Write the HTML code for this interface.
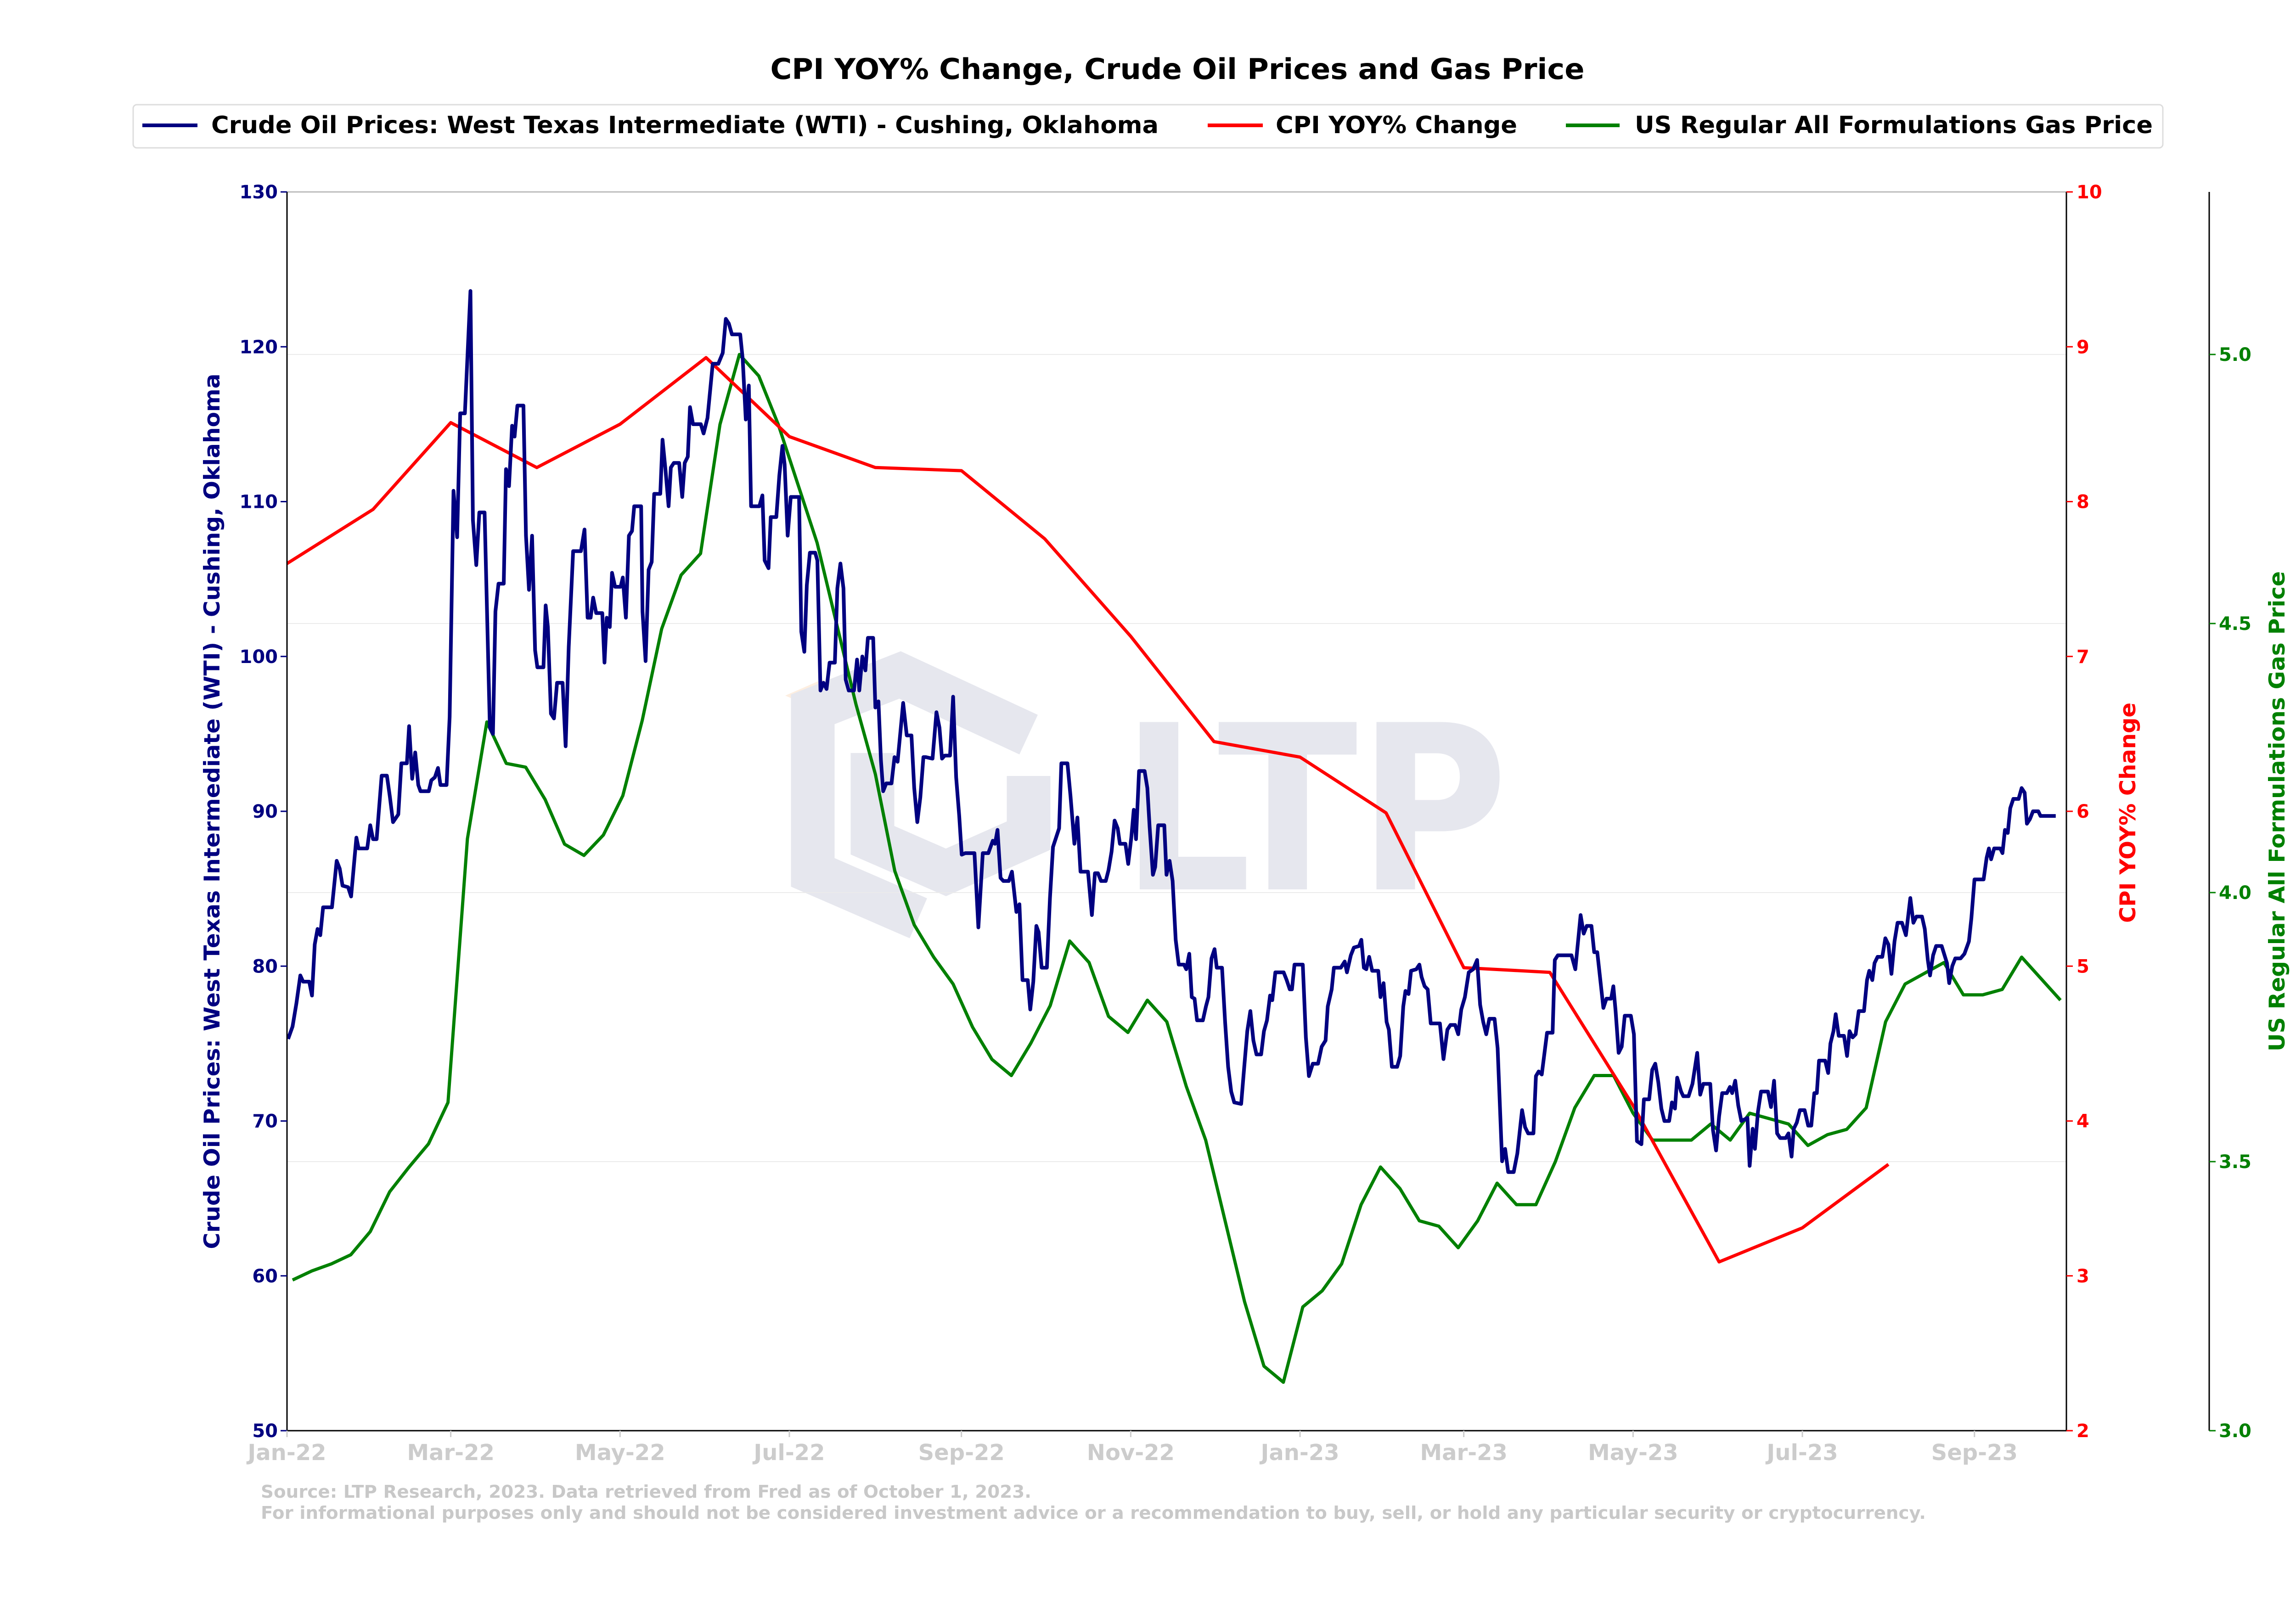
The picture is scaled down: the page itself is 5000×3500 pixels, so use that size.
<!DOCTYPE html>
<html><head><meta charset="utf-8"><title>CPI YOY% Change, Crude Oil Prices and Gas Price</title>
<style>html,body{margin:0;padding:0;background:#fff;}svg{display:block;font-family:"DejaVu Sans","Liberation Sans",sans-serif;font-weight:bold;}</style>
</head><body>
<svg id="chart" width="5000" height="3500" viewBox="0 0 5000 3500" xmlns="http://www.w3.org/2000/svg">
<rect width="5000" height="3500" fill="#fff"/>
<text x="2564" y="172" text-anchor="middle" font-size="62" fill="#000" textLength="1773" lengthAdjust="spacingAndGlyphs">CPI YOY% Change, Crude Oil Prices and Gas Price</text>
<g>
<rect x="290" y="228" width="4420" height="94" fill="#fff" stroke="#dddddd" stroke-width="3" rx="8"/>
<g><line x1="310" y1="273" x2="430" y2="273" stroke="#000080" stroke-width="8"/><text x="460" y="290" font-size="52" fill="#000" textLength="2063" lengthAdjust="spacingAndGlyphs">Crude Oil Prices: West Texas Intermediate (WTI) - Cushing, Oklahoma</text></g>
<g><line x1="2630" y1="273" x2="2750" y2="273" stroke="#ff0000" stroke-width="8"/><text x="2778" y="290" font-size="52" fill="#000" textLength="526" lengthAdjust="spacingAndGlyphs">CPI YOY% Change</text></g>
<g><line x1="3410" y1="273" x2="3527" y2="273" stroke="#008000" stroke-width="8"/><text x="3560" y="290" font-size="52" fill="#000" textLength="1128" lengthAdjust="spacingAndGlyphs">US Regular All Formulations Gas Price</text></g>
</g>
<g id="watermark">
<polygon points="1790,1480 1870,1515 1790,1550 1710,1515" fill="#fdeee0"/>
<polyline points="2240,1600 1960,1470 1770,1545 1770,1900 2000,2000" fill="none" stroke="#e6e7ee" stroke-width="95"/>
<polyline points="1900,1640 1900,1830 2060,1900 2240,1820 2240,1690" fill="none" stroke="#e6e7ee" stroke-width="95"/>
<text x="2441" y="1937" font-size="500" fill="#e6e7ee" textLength="843" lengthAdjust="spacingAndGlyphs">LTP</text>
</g>
<g id="grid"></g>
<g id="series"></g>
<g id="axes"></g>
<text transform="translate(478,1767) rotate(-90)" text-anchor="middle" font-size="47" fill="#000080" textLength="1907" lengthAdjust="spacingAndGlyphs">Crude Oil Prices: West Texas Intermediate (WTI) - Cushing, Oklahoma</text>
<text transform="translate(4650,1770) rotate(-90)" text-anchor="middle" font-size="47" fill="#ff0000" textLength="480" lengthAdjust="spacingAndGlyphs">CPI YOY% Change</text>
<text transform="translate(4975,1767) rotate(-90)" text-anchor="middle" font-size="47" fill="#008000" textLength="1046" lengthAdjust="spacingAndGlyphs">US Regular All Formulations Gas Price</text>
<text x="568" y="3262" font-size="38" fill="#c8c8c8" textLength="1678" lengthAdjust="spacingAndGlyphs">Source: LTP Research, 2023. Data retrieved from Fred as of October 1, 2023.</text>
<text x="568" y="3308" font-size="38" fill="#c8c8c8" textLength="3626" lengthAdjust="spacingAndGlyphs">For informational purposes only and should not be considered investment advice or a recommendation to buy, sell, or hold any particular security or cryptocurrency.</text>
</svg>
<script>
const xTickLabels = ["Jan-22","Mar-22","May-22","Jul-22","Sep-22","Nov-22","Jan-23","Mar-23","May-23","Jul-23","Sep-23"];
const xTickDates = ["2022-01-01","2022-03-01","2022-05-01","2022-07-01","2022-09-01","2022-11-01","2023-01-01","2023-03-01","2023-05-01","2023-07-01","2023-09-01"];
const wtiTicks = [50,60,70,80,90,100,110,120,130];
const cpiTicks = [2,3,4,5,6,7,8,9,10];
const gasTicks = [3.0,3.5,4.0,4.5,5.0];
const gasTickLabels = ["3.0","3.5","4.0","4.5","5.0"];
const cpiDates = ["2022-01-01","2022-02-01","2022-03-01","2022-04-01","2022-05-01","2022-06-01","2022-07-01","2022-08-01","2022-09-01","2022-10-01","2022-11-01","2022-12-01","2023-01-01","2023-02-01","2023-03-01","2023-04-01","2023-05-01","2023-06-01","2023-07-01","2023-08-01"];
const cpiValues = [7.6,7.95,8.51,8.22,8.5,8.93,8.42,8.22,8.2,7.76,7.13,6.45,6.35,5.99,4.99,4.96,4.1,3.09,3.31,3.72];
const gasStartDate = "2022-01-03";
const gasValues = [3.28,3.297,3.31,3.327,3.37,3.444,3.49,3.533,3.61,4.10,4.317,4.24,4.233,4.173,4.09,4.069,4.107,4.18,4.32,4.49,4.59,4.63,4.87,5.00,4.96,4.87,4.76,4.65,4.50,4.35,4.22,4.04,3.94,3.88,3.83,3.75,3.69,3.66,3.72,3.79,3.91,3.87,3.77,3.74,3.80,3.76,3.64,3.54,3.39,3.24,3.12,3.09,3.23,3.26,3.31,3.42,3.49,3.45,3.39,3.38,3.34,3.39,3.46,3.42,3.42,3.50,3.60,3.66,3.66,3.59,3.54,3.54,3.54,3.57,3.54,3.59,3.58,3.57,3.53,3.55,3.56,3.60,3.76,3.83,3.85,3.87,3.81,3.81,3.82,3.88,3.84,3.80];
const wtiDays = [0.4,2,3.4,4.8,5.8,8,9,10,11,12,13,16.2,17.9,19,20,22,23.1,25,25.8,28.9,30,31,32.3,34.1,36,37.1,38.2,40.1,41.2,43.2,44,45.1,46.2,47.3,48.1,51.1,52,53.3,54.4,55.3,57.5,58.6,60,61.3,62.4,64.1,66.1,67,68.2,69.3,71.2,73.1,74.2,75.1,76.2,78.1,78.9,80,81.1,82,83,85.2,86.1,87.2,88.3,89.4,90.2,92.4,93.2,94,95.1,96.2,97.3,99.3,100.4,101.5,103.1,105.9,107.2,108.3,109.4,110.3,111.4,113.6,114.4,115.2,116.3,117.1,118.2,120.2,121,122.1,123.2,124.3,125.1,127.6,128.1,129.2,130.3,131.4,132.3,134.5,135.3,136.4,137.5,138.3,139.4,141.3,142.4,143.3,144.4,145.2,146.3,149.1,150.1,151.5,153.4,155.4,157,158.1,159.2,160.3,162.2,163.3,164.2,165.3,166.4,167.2,170.2,171.3,172.1,173.5,174.3,176.3,177.4,178.5,179.3,180.4,181.5,184.5,185.3,186.4,187.3,188.4,190.3,191.1,192.2,193.3,194.4,195.5,197.4,198.3,199.4,200.5,201.3,202.4,204.3,205.4,206.2,207.3,208.4,209.3,211.2,
212,213.1,214,214.8,215.9,217.8,218.9,220,222,223.3,225,226,227.1,228.2,229.3,230.2,232.6,234,235.1,236,237,238.9,240,241.1,242.2,243.1,244.4,247.7,249.1,250.7,252.7,254.3,255.1,256,257.1,258.1,260.1,261.2,262.8,263.9,265,266.9,267.8,268.9,270,270.8,271.9,273.8,274.9,276,277.1,278.2,279,281.2,282.3,283.7,284.8,285.9,288.6,290,291.1,292.2,293.3,295,296,297.1,298.2,299.3,300.1,302.1,303.1,304.2,305.1,305.9,307,309,310,310.8,312,312.8,313.9,316.1,316.9,318,319.1,320.2,321.3,323.2,324,325.1,326,327,327.9,330,331.1,332,333.1,334.2,335,336.9,338,339.1,340.2,341.3,343.8,344.9,346,347.1,348.2,349.3,351,352,353.1,354.2,355,356.1,359.1,360.2,361.3,362.1,363,366,367.1,368.2,369.6,371.5,372.8,374.2,375,376.4,377.2,379.7,381.1,381.9,383.3,384.4,386.3,387.1,388,388.9,389.9,391,393.2,394,395.1,396.2,397,398.1,400,401.1,402.2,403,404.1,405,406.9,408,408.8,409.9,411,412.1,415.4,416.7,418.1,419.2,420.9,422,423.1,424.4,425.8,
427.4,428.8,429.9,431,432.1,433.2,435.1,436.2,437.8,438.9,440,442,443.3,445,446.1,447.2,449.1,450,451,452.1,454,456,456.8,457.9,462.8,464.2,466.1,467.2,468.3,470,471,472.1,474.3,475.4,477.1,477.9,478.7,479.8,480.9,482,484.2,485.3,486.4,488,488.9,490.8,491.9,493,494.1,495.2,496.3,498,499,500.1,500.9,502.3,503.1,505,506.4,508.1,509.2,510.3,512.8,513.8,514.9,516,517.1,518.8,519.9,520.7,521.8,522.9,524,526.2,527,528.1,528.9,530,531.1,533.6,534.7,535.8,536.9,538,540,541,542.1,542.9,544,545.1,546.8,548.1,549.2,550.3,551.2,552,554.2,555.3,556.1,557.2,558,559.1,561,562.1,563,564.1,565.2,566.3,568.2,569.3,570.1,571.2,572,573.1,574.8,575.9,577,578.1,579.2,580.3,581.9,583.3,584.9,586,587.1,589.1,590.1,591.2,592,593.1,594.2,596.2,598.1,598.9,600,601.1,603,604.4,606,606.9,608,611.3,612.4,613.2,614,615.1,617.3,618.1,619,620,620.9,622,623.9,625,626.1,626.9,628,629.1,631,631.8,637.3];
const wtiValues = [75.3,76.1,77.6,79.4,79.0,79.0,78.1,81.4,82.4,82.0,83.8,83.8,86.8,86.3,85.2,85.1,84.5,88.3,87.6,87.6,89.1,88.2,88.2,92.3,92.3,90.9,89.3,89.8,93.1,93.1,95.5,92.1,93.8,91.7,91.3,91.3,92.0,92.2,92.8,91.7,91.7,96.1,110.7,107.7,115.7,115.7,123.6,108.8,105.9,109.3,109.3,95.4,95.0,102.9,104.7,104.7,112.1,111.0,114.9,114.2,116.2,116.2,107.8,104.3,107.8,100.4,99.3,99.3,103.3,101.9,96.3,96.0,98.3,98.3,94.2,100.6,106.8,106.8,108.2,102.5,102.5,103.8,102.8,102.8,99.6,102.5,101.9,105.4,104.5,104.5,105.1,102.5,107.8,108.1,109.7,109.7,102.9,99.7,105.6,106.1,110.5,110.5,114.0,112.0,109.7,112.2,112.5,112.5,110.3,112.5,112.9,116.1,115.0,115.0,114.4,115.4,118.9,118.9,119.6,121.8,121.5,120.8,120.8,120.8,119.2,115.3,117.5,109.7,109.7,110.4,106.2,105.7,109.0,109.0,111.7,113.6,112.4,107.8,110.3,110.3,101.6,100.3,104.6,106.7,106.7,106.2,97.8,98.3,97.9,99.6,99.6,104.4,106.0,104.4,98.5,97.8,97.8,99.8,97.8,100.0,99.1,101.2,101.2,
96.7,97.1,93.3,91.3,91.8,91.8,93.5,93.2,97.0,94.9,94.9,91.5,89.3,90.9,93.5,93.5,93.4,96.4,95.4,93.4,93.6,93.6,97.4,92.2,89.7,87.2,87.3,87.3,82.5,87.3,87.3,88.1,87.9,88.8,85.7,85.5,85.5,86.1,83.5,84.0,79.1,79.1,77.2,79.0,82.6,82.2,79.9,79.9,84.4,87.7,88.3,88.9,93.1,93.1,91.0,87.9,89.6,86.1,86.1,83.3,86.0,86.0,85.5,85.5,86.2,87.4,89.4,88.9,87.9,87.9,86.6,88.3,90.1,88.2,92.6,92.6,91.5,89.0,85.9,86.4,89.1,89.1,85.9,86.8,85.5,81.7,80.1,80.1,79.8,80.8,78.0,77.9,76.5,76.5,77.4,78.0,80.5,81.1,79.9,79.9,76.4,73.5,71.9,71.2,71.1,73.5,75.8,77.1,75.2,74.3,74.3,75.8,76.5,78.1,77.8,79.6,79.6,79.1,78.5,78.5,80.1,80.1,75.4,72.9,73.7,73.7,74.8,75.2,77.4,78.5,79.9,79.9,80.3,79.6,80.7,81.2,81.3,81.7,79.9,79.8,80.6,79.7,79.7,78.0,78.9,76.4,75.9,73.5,73.5,74.2,77.4,78.4,78.2,79.7,79.8,80.1,79.3,78.7,78.5,76.3,76.3,74.0,75.9,76.2,76.2,75.6,77.2,78.0,79.6,
79.8,80.4,77.5,76.4,75.6,76.6,76.6,74.7,67.4,68.2,66.7,66.7,67.9,70.7,69.6,69.2,69.2,72.9,73.2,73.0,75.7,75.7,80.4,80.7,80.7,79.8,83.3,82.1,82.6,82.6,80.9,80.9,77.3,77.9,77.9,78.7,77.1,74.4,74.8,76.8,76.8,75.6,68.7,68.5,71.4,71.4,73.3,73.7,72.5,70.8,70.0,70.0,71.2,70.8,72.8,71.9,71.6,71.6,72.4,74.4,71.7,72.4,72.4,69.4,68.1,70.3,71.8,71.8,72.2,71.8,72.6,71.0,70.0,70.2,67.1,69.5,68.2,70.6,71.9,71.9,70.9,72.6,69.2,68.9,68.9,69.2,67.7,69.5,69.9,70.7,70.7,69.7,69.7,71.8,71.8,73.9,73.9,73.1,75.0,75.8,76.9,75.5,75.5,74.2,75.8,75.4,75.6,77.1,77.1,79.1,79.7,79.1,80.2,80.6,80.6,81.8,81.4,79.5,81.6,82.8,82.8,82.0,84.4,82.8,83.2,83.2,82.4,80.4,79.4,80.7,81.3,81.3,80.2,78.9,80.0,80.5,80.5,80.8,81.6,83.1,85.6,85.6,87.0,87.6,86.9,87.6,87.6,87.3,88.8,88.6,90.2,90.8,90.8,91.5,91.2,89.2,89.5,90.0,90.0,89.7,89.7];

const svg = document.getElementById('chart');
const NS = 'http://www.w3.org/2000/svg';
const L = 625, R = 4500, T = 418, B = 3116;
const DAY0 = Date.UTC(2022,0,1), PXDAY = 6.044;
function dayOf(s){const p=s.split('-');return (Date.UTC(+p[0],+p[1]-1,+p[2])-DAY0)/86400000;}
function xDay(d){return L + d*PXDAY;}
function yWti(v){return B - (v-50)/80*(B-T);}
function yCpi(v){return B - (v-2)/8*(B-T);}
function yGas(v){return B - (v-3)*1172;}
function mk(tag, attrs, parent){const e=document.createElementNS(NS,tag);for(const k in attrs)e.setAttribute(k,attrs[k]);parent.appendChild(e);return e;}

const grid = document.getElementById('grid');
gasTicks.forEach(v=>{
  const g = mk('line',{x1:L,x2:R,y1:yGas(v),y2:yGas(v),stroke:'#ebebeb','stroke-width':2},grid);
  
  
});

const series = document.getElementById('series');
function pathFrom(xs, ys){let d='';for(let i=0;i<Math.min(xs.length,ys.length);i++){d+=(i?'L':'M')+xs[i].toFixed(1)+','+ys[i].toFixed(1);}return d;}
const gasX=[], gasY=[]; const g0=dayOf(gasStartDate);
gasValues.forEach((v,i)=>{gasX.push(xDay(g0+7*i));gasY.push(yGas(v));});
const gp = mk('path',{d:pathFrom(gasX,gasY),fill:'none',stroke:'#008000','stroke-width':7,'stroke-linejoin':'round'},series);


const cpX = cpiDates.map(s=>xDay(dayOf(s))), cpY = cpiValues.map(yCpi);
const cp = mk('path',{d:pathFrom(cpX,cpY),fill:'none',stroke:'#ff0000','stroke-width':7,'stroke-linejoin':'round'},series);


const wX = wtiDays.map(xDay), wY = wtiValues.map(yWti);
const wp = mk('path',{d:pathFrom(wX,wY),fill:'none',stroke:'#000080','stroke-width':8,'stroke-linejoin':'round'},series);



const axes = document.getElementById('axes');
const sp = [[L,T,R,T,'#bbbbbb'],[L,T,L,B,'#000'],[L,B,R,B,'#000'],[R,T,R,B,'#000'],[4811,T,4811,B,'#000']];
sp.forEach(s=>{
  const l = mk('line',{x1:s[0],y1:s[1],x2:s[2],y2:s[3],stroke:s[4],'stroke-width':3},axes);
  
  
});
wtiTicks.forEach(v=>{
  const y=yWti(v);
  mk('line',{x1:L-14,x2:L,y1:y,y2:y,stroke:'#000080','stroke-width':3},axes);
  const t = mk('text',{x:L-20,y:y+14,'text-anchor':'end','font-size':40,fill:'#000080'},axes);
  t.textContent = v;
  
  
});
cpiTicks.forEach(v=>{
  const y=yCpi(v);
  mk('line',{x1:R,x2:R+14,y1:y,y2:y,stroke:'#ff0000','stroke-width':3},axes);
  const t = mk('text',{x:R+22,y:y+14,'font-size':40,fill:'#ff0000'},axes);
  t.textContent = v;
  
  
});
gasTicks.forEach((v,i)=>{
  const y=yGas(v);
  mk('line',{x1:4811,x2:4825,y1:y,y2:y,stroke:'#008000','stroke-width':3},axes);
  const t = mk('text',{x:4832,y:y+14,'font-size':40,fill:'#008000'},axes);
  t.textContent = gasTickLabels[i];
  
  
});
xTickDates.forEach((s,i)=>{
  const x=xDay(dayOf(s));
  mk('line',{x1:x,x2:x,y1:B,y2:B+14,stroke:'#cccccc','stroke-width':3},axes);
  const t = mk('text',{x:x,y:3180,'text-anchor':'middle','font-size':48,fill:'#cccccc'},axes);
  t.textContent = xTickLabels[i];
  
  
});
</script>
</body></html>
